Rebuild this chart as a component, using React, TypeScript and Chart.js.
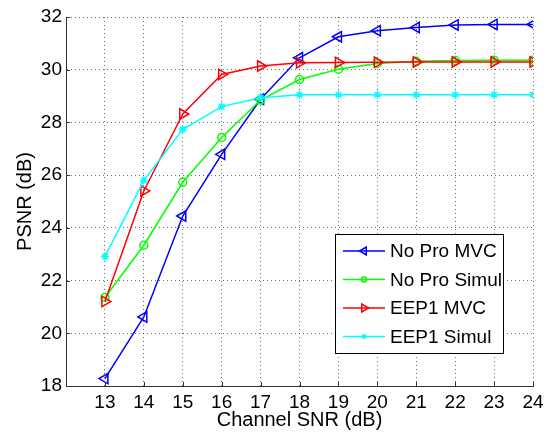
import React, { useEffect, useRef } from 'react';
import { Chart, registerables } from 'chart.js';
import { drawPoint } from 'chart.js/helpers';

Chart.register(...registerables);

const channelSNR = [13, 14, 15, 16, 17, 18, 19, 20, 21, 22, 23, 24];
const noProMVC = [18.28, 20.62, 24.45, 26.79, 28.88, 30.45, 31.25, 31.48, 31.6, 31.7, 31.72, 31.72];
const noProSimul = [21.36, 23.34, 25.73, 27.43, 28.85, 29.63, 30.02, 30.24, 30.32, 30.35, 30.36, 30.36];
const eep1MVC = [21.21, 25.4, 28.32, 29.82, 30.14, 30.26, 30.27, 30.28, 30.29, 30.29, 30.29, 30.29];
const eep1Simul = [22.91, 25.8, 27.74, 28.6, 28.94, 29.05, 29.05, 29.05, 29.05, 29.05, 29.05, 29.05];
const seriesNames = ['No Pro MVC', 'No Pro Simul', 'EEP1 MVC', 'EEP1 Simul'];
const xTitle = 'Channel SNR (dB)';
const yTitle = 'PSNR (dB)';

const FONT = '"Liberation Sans", Arial, Helvetica, sans-serif';

const styles = [
  { color: '#0000ff', pointStyle: 'triangle', rotation: -90, radius: 6, order: 4 },
  { color: '#00ff00', pointStyle: 'circle', rotation: 0, radius: 4, order: 3 },
  { color: '#ff0000', pointStyle: 'triangle', rotation: 90, radius: 6, order: 2 },
  { color: '#00ffff', pointStyle: 'star', rotation: 0, radius: 4, order: 1 },
];

const seriesData = [noProMVC, noProSimul, eep1MVC, eep1Simul];

const innerTicksPlugin = {
  id: 'innerTicks',
  afterDatasetsDraw(chart: any) {
    const { ctx, chartArea, scales } = chart;
    ctx.save();
    ctx.strokeStyle = '#333';
    ctx.lineWidth = 1;
    ctx.beginPath();
    scales.x.ticks.forEach((t: any) => {
      const px = Math.round(scales.x.getPixelForValue(t.value)) + 0.5;
      ctx.moveTo(px, chartArea.bottom);
      ctx.lineTo(px, chartArea.bottom - 4);
    });
    scales.y.ticks.forEach((t: any) => {
      const py = Math.round(scales.y.getPixelForValue(t.value)) + 0.5;
      ctx.moveTo(chartArea.left, py);
      ctx.lineTo(chartArea.left + 4, py);
    });
    ctx.stroke();
    ctx.restore();
  },
};

const boxLegendPlugin = {
  id: 'boxLegend',
  afterDraw(chart: any) {
    const { ctx, chartArea } = chart;
    const w = 168;
    const h = 119;
    const x = chartArea.right - 30 - w;
    const y = chartArea.bottom - 33 - h;
    ctx.save();
    ctx.fillStyle = '#ffffff';
    ctx.fillRect(x, y, w, h);
    ctx.strokeStyle = '#000000';
    ctx.lineWidth = 1;
    ctx.strokeRect(Math.round(x) + 0.5, Math.round(y) + 0.5, w, h);
    ctx.font = `19px ${FONT}`;
    ctx.textBaseline = 'middle';
    ctx.textAlign = 'left';
    seriesNames.forEach((name, i) => {
      const s = styles[i];
      const cy = y + 17 + i * 28.5;
      ctx.strokeStyle = s.color;
      ctx.lineWidth = 1.5;
      ctx.beginPath();
      ctx.moveTo(x + 8, cy);
      ctx.lineTo(x + 50, cy);
      ctx.stroke();
      ctx.fillStyle = 'rgba(0,0,0,0)';
      drawPoint(ctx, { pointStyle: s.pointStyle, rotation: s.rotation, radius: s.radius - 1.5, borderWidth: 1.5 } as any, x + 29, cy);
      ctx.fillStyle = '#000000';
      ctx.fillText(name, x + 55, cy + 1);
    });
    ctx.restore();
  },
};

export default function App() {
  const canvasRef = useRef<HTMLCanvasElement | null>(null);

  useEffect(() => {
    if (!canvasRef.current) return;
    const chart = new Chart(canvasRef.current, {
      type: 'line',
      data: {
        datasets: seriesNames.map((name, i) => ({
          label: name,
          data: channelSNR.map((x, j) => ({ x, y: seriesData[i][j] })),
          borderColor: styles[i].color,
          backgroundColor: 'rgba(0,0,0,0)',
          pointBorderColor: styles[i].color,
          pointBackgroundColor: 'rgba(0,0,0,0)',
          pointStyle: styles[i].pointStyle as any,
          rotation: styles[i].rotation,
          pointRadius: styles[i].radius,
          pointBorderWidth: 1.5,
          borderWidth: 1.5,
          tension: 0,
          fill: false,
          order: styles[i].order,
        })),
      },
      options: {
        responsive: false,
        animation: false,
        events: [],
        layout: { padding: { top: 17, right: 23, left: 0, bottom: 0 } },
        plugins: {
          legend: { display: false },
          tooltip: { enabled: false },
          title: { display: false },
        },
        scales: {
          x: {
            type: 'linear',
            min: 12,
            max: 24,
            afterFit: (s: any) => { s.height = 46; },
            ticks: {
              stepSize: 1,
              color: '#000',
              padding: 5,
              maxRotation: 0,
              autoSkip: false,
              font: { family: FONT, size: 19 },
              callback: (v: any) => (v === 12 ? '' : String(v)),
            },
            grid: { color: 'rgba(60,60,60,0.75)', lineWidth: 1, drawTicks: false },
            border: { display: true, color: '#333', width: 1, dash: [1, 3] },
            title: {
              display: true,
              text: xTitle,
              color: '#000',
              font: { family: FONT, size: 20 },
              padding: { top: 0, bottom: 0 },
            },
          },
          y: {
            type: 'linear',
            min: 18,
            max: 32,
            afterFit: (s: any) => { s.width = 66; },
            ticks: {
              stepSize: 2,
              color: '#000',
              padding: 4,
              font: { family: FONT, size: 19 },
            },
            grid: { color: 'rgba(60,60,60,0.75)', lineWidth: 1, drawTicks: false },
            border: { display: true, color: '#333', width: 1, dash: [1, 3] },
            title: {
              display: true,
              text: yTitle,
              color: '#000',
              font: { family: FONT, size: 20 },
              padding: { top: 13, bottom: 0 },
            },
          },
        },
      },
      plugins: [innerTicksPlugin, boxLegendPlugin],
    });
    return () => chart.destroy();
  }, []);

  return (
    <div style={{ position: 'absolute', left: 0, top: 0, width: 556, height: 432, background: '#fff' }}>
      <canvas ref={canvasRef} width={556} height={432} style={{ display: 'block' }} />
    </div>
  );
}
